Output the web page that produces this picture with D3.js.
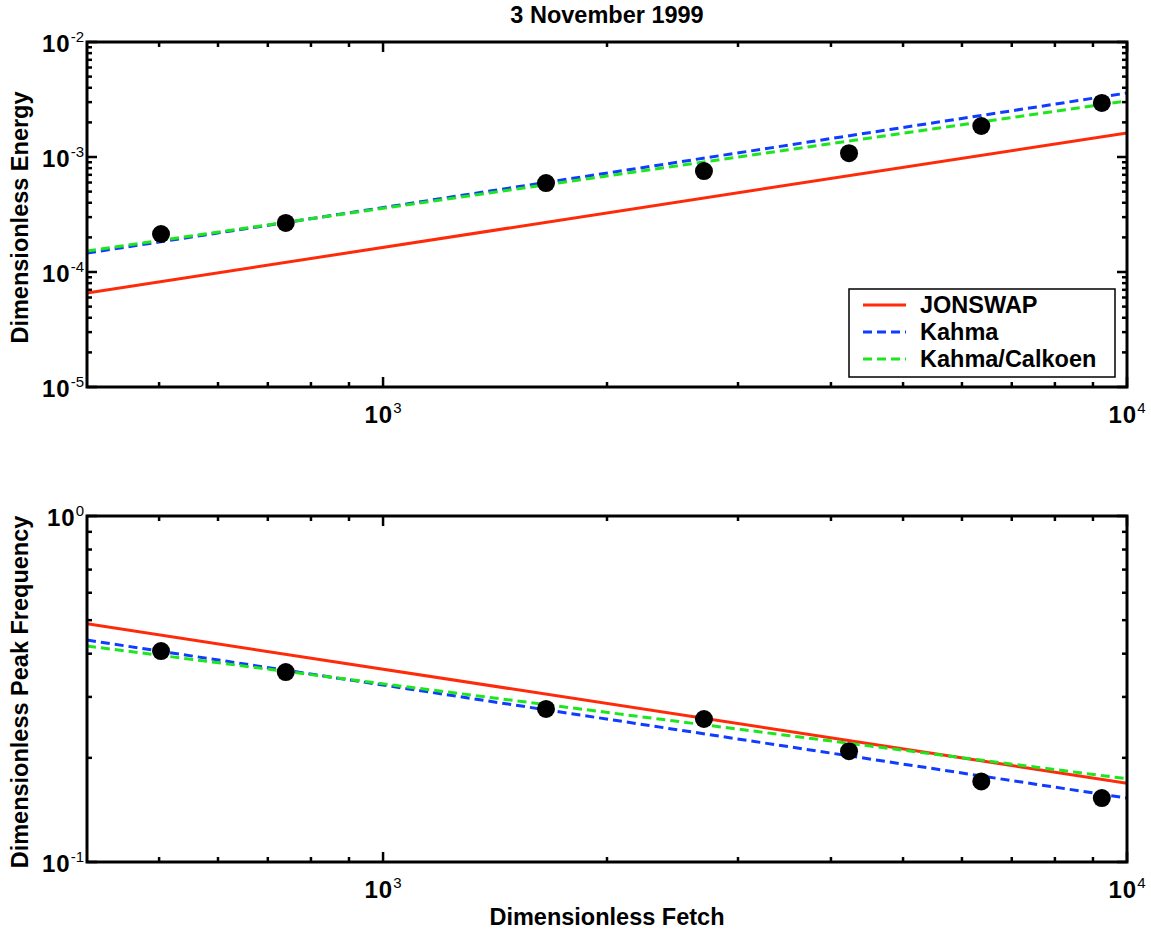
<!DOCTYPE html>
<html>
<head>
<meta charset="utf-8">
<script src="https://cdn.jsdelivr.net/npm/d3@7"></script>
<style>
  html, body { margin: 0; padding: 0; background: #fff; }
  svg { display: block; font-family: "Liberation Sans", Arial, sans-serif; }
  .lbl { font-weight: 700; fill: #000; }
</style>
</head>
<body>
<svg id="chart" width="1151" height="934"></svg>
<script>
// ---------- data ----------
const fetchObs = [503, 740, 1656, 2700, 4230, 6370, 9250];
const energyObs = [2.14e-4, 2.67e-4, 5.94e-4, 7.55e-4, 1.08e-3, 1.86e-3, 2.95e-3];
const freqObs = [0.407, 0.354, 0.277, 0.259, 0.209, 0.171, 0.153];

// straight lines in log-log: values at both ends of the fetch range
const lineFetch = [400, 10000];
const energyJonswap = [6.57e-5, 1.62e-3];
const energyKahma = [1.46e-4, 3.60e-3];
const energyCalkoen = [1.52e-4, 3.07e-3];
const freqJonswap = [0.488, 0.169];
const freqKahma = [0.438, 0.153];
const freqCalkoen = [0.421, 0.174];

const seriesNames = ["JONSWAP", "Kahma", "Kahma/Calkoen"];
const seriesColors = ["#ff2a0a", "#0f3cff", "#1ee61e"];
const seriesDash = [null, "9,5", "9,5"];

const xTickExp = [3, 4];
const energyTickExp = [-2, -3, -4, -5];
const freqTickExp = [0, -1];

const svg = d3.select("#chart");
const L = 87, R = 1127;
const FS = 23.5;

const x = d3.scaleLog().domain([400, 10000]).range([L, R]);

function minorTicks(lo, hi) {
  // 2..9 times each decade inside [lo, hi]
  const out = [];
  for (let e = Math.floor(Math.log10(lo)); e < Math.ceil(Math.log10(hi)); e++) {
    for (let k = 2; k <= 9; k++) {
      const v = k * Math.pow(10, e);
      if (v > lo && v < hi) out.push(v);
    }
  }
  return out;
}

function powLabel(g, tx, ty, exp, anchor) {
  const t = g.append("text").attr("class", "lbl").attr("x", tx).attr("y", ty)
    .attr("text-anchor", anchor).attr("font-size", 24);
  t.append("tspan").attr("letter-spacing", 1).text("10");
  t.append("tspan").attr("dy", -10).attr("font-size", 15).attr("font-weight", 400).text(exp);
}

function panel(id, top, bottom, yDomain, yExp, xs, ys, lines, yTitle) {
  const y = d3.scaleLog().domain(yDomain).range([bottom, top]);
  const g = svg.append("g");

  g.append("clipPath").attr("id", "clip" + id)
    .append("rect").attr("x", L).attr("y", top).attr("width", R - L).attr("height", bottom - top);

  // ticks, inside on all four sides
  const xMajor = xTickExp.map(e => Math.pow(10, e));
  const xMinor = minorTicks(400, 10000);
  const yMajor = yExp.map(e => Math.pow(10, e));
  const yMinor = minorTicks(yDomain[0], yDomain[1]);

  [[xMajor, 10], [xMinor, 5]].forEach(([vals, len]) => {
    g.selectAll(null).data(vals).enter().append("line")
      .attr("x1", d => x(d)).attr("x2", d => x(d))
      .attr("y1", bottom).attr("y2", bottom - len)
      .attr("stroke", "#000").attr("stroke-width", 2.5);
    g.selectAll(null).data(vals).enter().append("line")
      .attr("x1", d => x(d)).attr("x2", d => x(d))
      .attr("y1", top).attr("y2", top + len)
      .attr("stroke", "#000").attr("stroke-width", 2.5);
  });
  [[yMajor, 10], [yMinor, 5]].forEach(([vals, len]) => {
    g.selectAll(null).data(vals).enter().append("line")
      .attr("y1", d => y(d)).attr("y2", d => y(d))
      .attr("x1", L).attr("x2", L + len)
      .attr("stroke", "#000").attr("stroke-width", 2.5);
    g.selectAll(null).data(vals).enter().append("line")
      .attr("y1", d => y(d)).attr("y2", d => y(d))
      .attr("x1", R).attr("x2", R - len)
      .attr("stroke", "#000").attr("stroke-width", 2.5);
  });

  // lines
  const line = d3.line().x(d => x(d[0])).y(d => y(d[1]));
  const lg = g.append("g").attr("clip-path", `url(#clip${id})`);
  lines.forEach((vals, i) => {
    lg.append("path")
      .datum(lineFetch.map((f, j) => [f, vals[j]]))
      .attr("fill", "none")
      .attr("stroke", seriesColors[i])
      .attr("stroke-width", 3)
      .attr("stroke-dasharray", seriesDash[i])
      .attr("d", line);
  });

  // observations
  g.selectAll(null).data(xs).enter().append("circle")
    .attr("cx", d => x(d)).attr("cy", (d, i) => y(ys[i]))
    .attr("r", 9).attr("fill", "#000");

  // box
  g.append("rect").attr("x", L).attr("y", top).attr("width", R - L).attr("height", bottom - top)
    .attr("fill", "none").attr("stroke", "#000").attr("stroke-width", 3);

  // tick labels
  yExp.forEach(e => powLabel(g, L - 3, y(Math.pow(10, e)) + 10, e, "end"));
  xTickExp.forEach(e => powLabel(g, x(Math.pow(10, e)), bottom + 36, e, "middle"));

  g.append("text").attr("class", "lbl")
    .attr("transform", `translate(28,${(top + bottom) / 2 + 3}) rotate(-90)`)
    .attr("text-anchor", "middle").attr("font-size", FS)
    .text(yTitle);

  return { g, y };
}

panel("a", 42, 387, [1e-5, 1e-2], energyTickExp, fetchObs, energyObs,
  [energyJonswap, energyKahma, energyCalkoen], "Dimensionless Energy");
panel("b", 516, 862, [0.1, 1], freqTickExp, fetchObs, freqObs,
  [freqJonswap, freqKahma, freqCalkoen], "Dimensionless Peak Frequency");

svg.append("text").attr("class", "lbl")
  .attr("x", (L + R) / 2).attr("y", 23).attr("text-anchor", "middle").attr("font-size", FS)
  .text("3 November 1999");

svg.append("text").attr("class", "lbl")
  .attr("x", (L + R) / 2).attr("y", 925).attr("text-anchor", "middle").attr("font-size", FS)
  .text("Dimensionless Fetch");

// legend
const leg = svg.append("g").attr("transform", "translate(849,289)");
leg.append("rect").attr("width", 266).attr("height", 88)
  .attr("fill", "#fff").attr("stroke", "#000").attr("stroke-width", 1.5);
seriesNames.forEach((name, i) => {
  const yy = 16 + i * 27;
  leg.append("line").attr("x1", 14).attr("x2", 57).attr("y1", yy).attr("y2", yy)
    .attr("stroke", seriesColors[i]).attr("stroke-width", 3)
    .attr("stroke-dasharray", seriesDash[i]);
  leg.append("text").attr("class", "lbl").attr("x", 71).attr("y", yy + 8)
    .attr("font-size", FS).text(name);
});
</script>
</body>
</html>
